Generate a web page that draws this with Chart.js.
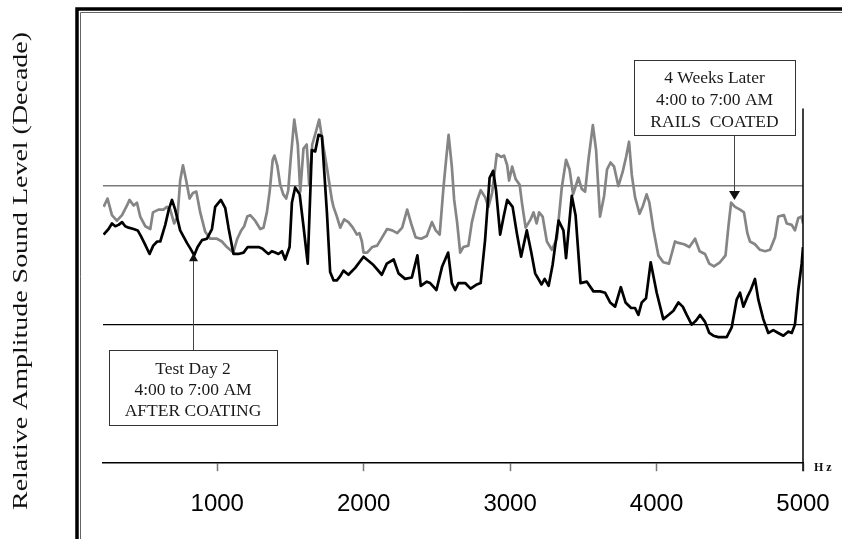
<!DOCTYPE html>
<html>
<head>
<meta charset="utf-8">
<script src="https://cdn.jsdelivr.net/npm/chart.js@4.4.1/dist/chart.umd.min.js"></script>
<style>
html,body{margin:0;padding:0;background:#fff;}
#wrap{width:842px;height:539px;position:relative;}
canvas{display:block;}
</style>
</head>
<body>
<div id="wrap"><canvas id="c" width="842" height="539"></canvas></div>
<script>
// ---- data (frequency in Hz, amplitude in decades) ----
const freqBlack = [
  224,258,281,304,326,350,372,395,429,457,
  478,502,538,563,590,611,645,669,691,713,
  747,793,816,843,866,896,930,964,986,1025,
  1055,1077,1111,1145,1180,1208,1248,1282,1307,1328,
  1350,1373,1396,1418,1442,1464,1494,1510,1532,1563,
  1589,1618,1646,1669,1692,1715,1749,1771,1794,1817,
  1840,1862,1896,1942,1999,2067,2124,2158,2205,2238,
  2283,2329,2367,2390,2431,2454,2497,2536,2577,2602,
  2625,2647,2693,2730,2773,2799,2829,2860,2884,2904,
  2932,2956,2980,3017,3046,3075,3114,3143,3171,3215,
  3236,3263,3290,3331,3364,3382,3421,3447,3481,3524,
  3569,3614,3649,3683,3717,3756,3788,3826,3853,3876,
  3899,3928,3960,4001,4046,4081,4115,4149,4179,4206,
  4240,4270,4297,4331,4360,4388,4422,4479,4513,4547,
  4570,4593,4620,4643,4672,4695,4729,4763,4797,4831,
  4866,4900,4923,4945,4968,4991,5000
];
const ampBlack = [
  1.65,1.69,1.73,1.71,1.72,1.74,1.71,1.70,1.69,1.68,
  1.64,1.59,1.51,1.57,1.60,1.60,1.72,1.83,1.90,1.83,
  1.68,1.59,1.55,1.50,1.56,1.61,1.62,1.69,1.85,1.90,
  1.84,1.70,1.51,1.51,1.52,1.56,1.56,1.56,1.55,1.53,
  1.51,1.53,1.52,1.51,1.53,1.47,1.56,1.88,1.99,1.94,
  1.71,1.44,2.26,2.25,2.37,2.36,1.81,1.38,1.32,1.32,
  1.35,1.39,1.36,1.41,1.49,1.43,1.36,1.44,1.47,1.37,
  1.33,1.34,1.50,1.28,1.31,1.30,1.25,1.42,1.52,1.30,
  1.25,1.30,1.30,1.26,1.29,1.30,1.61,2.06,2.11,1.97,
  1.65,1.78,1.90,1.85,1.66,1.49,1.68,1.53,1.37,1.29,
  1.33,1.28,1.43,1.75,1.68,1.48,1.93,1.79,1.30,1.31,
  1.24,1.24,1.23,1.16,1.13,1.27,1.16,1.12,1.12,1.07,
  1.16,1.19,1.45,1.23,1.04,1.07,1.10,1.16,1.13,1.07,
  1.00,1.03,1.07,1.02,0.94,0.92,0.91,0.91,0.98,1.18,
  1.23,1.13,1.20,1.25,1.33,1.18,1.04,0.94,0.96,0.94,
  0.92,0.95,0.94,1.00,1.25,1.44,1.56
];
const freqGray = [
  224,251,281,315,350,384,401,429,452,474,
  509,543,561,599,633,657,679,706,729,747,
  766,788,811,834,857,884,918,952,998,1032,
  1066,1109,1137,1164,1184,1205,1225,1259,1294,1316,
  1339,1358,1379,1391,1410,1430,1451,1471,1485,1502,
  1526,1550,1567,1589,1611,1628,1649,1676,1696,1724,
  1751,1783,1794,1817,1840,1867,1896,1926,1954,1971,
  1988,1999,2024,2058,2092,2126,2160,2195,2229,2263,
  2297,2324,2355,2393,2431,2466,2492,2519,2545,2563,
  2580,2602,2618,2638,2659,2681,2715,2739,2773,2799,
  2829,2852,2877,2909,2939,2959,2980,2993,3014,3038,
  3065,3082,3106,3140,3160,3181,3198,3222,3251,3285,
  3319,3353,3382,3406,3430,3466,3489,3512,3535,3565,
  3587,3614,3642,3662,3686,3710,3739,3768,3792,3812,
  3831,3853,3884,3908,3932,3951,3978,4012,4046,4085,
  4126,4149,4188,4224,4263,4294,4331,4360,4392,4433,
  4471,4490,4509,4536,4570,4597,4620,4638,4672,4706,
  4741,4775,4809,4831,4870,4889,4923,4945,4968,4991,
  5000
];
const ampGray = [
  1.85,1.91,1.79,1.75,1.79,1.86,1.90,1.86,1.88,1.78,
  1.71,1.69,1.81,1.83,1.83,1.85,1.83,1.73,1.78,2.04,
  2.15,2.04,1.91,1.95,1.96,1.81,1.67,1.62,1.62,1.60,
  1.56,1.52,1.62,1.68,1.71,1.78,1.79,1.75,1.69,1.70,
  1.81,1.96,2.19,2.22,2.15,2.01,1.94,1.91,1.97,2.20,
  2.48,2.30,1.96,2.27,2.30,2.01,2.30,2.40,2.48,2.29,
  2.12,1.90,1.85,1.78,1.70,1.76,1.74,1.70,1.65,1.66,
  1.60,1.52,1.52,1.56,1.57,1.63,1.69,1.68,1.66,1.70,
  1.83,1.73,1.63,1.62,1.64,1.74,1.68,1.65,1.99,2.19,
  2.37,2.14,1.90,1.74,1.52,1.56,1.57,1.74,1.89,1.97,
  1.92,1.85,1.95,2.23,2.21,2.22,2.15,2.04,2.14,2.05,
  2.01,1.87,1.70,1.76,1.81,1.73,1.81,1.78,1.60,1.54,
  1.62,1.99,2.19,2.12,1.94,2.06,1.98,1.96,2.19,2.44,
  2.26,1.78,1.93,2.12,2.17,2.14,2.00,2.10,2.21,2.32,
  2.08,1.92,1.80,1.86,1.94,1.88,1.69,1.50,1.45,1.44,
  1.60,1.59,1.58,1.56,1.62,1.53,1.51,1.44,1.42,1.45,
  1.50,1.70,1.88,1.85,1.83,1.81,1.66,1.60,1.58,1.54,
  1.53,1.54,1.63,1.78,1.79,1.73,1.72,1.68,1.77,1.78,
  1.73
];
const xTickValues = [1000, 2000, 3000, 4000, 5000];
const yGridValues = [0, 1, 2, 3];
const yTitle = 'Relative Amplitude Sound Level (Decade)';
const xUnit = 'H z';
const noteBlack = ['Test Day 2', '4:00 to 7:00 AM', 'AFTER COATING'];
const noteGray = ['4 Weeks Later', '4:00 to 7:00 AM', 'RAILS  COATED'];
const noteBlackTarget = [836, 1.516];
const noteGrayTarget = [4529, 1.90];

function pts(xs, ys) {
  const n = Math.min(xs.length, ys.length);
  const out = [];
  for (let i = 0; i < n; i++) out.push({x: xs[i], y: ys[i]});
  return out;
}

function drawNote(ctx, lines, bx, by, bw, bh, baselines) {
  ctx.save();
  ctx.fillStyle = '#fff';
  ctx.fillRect(bx, by, bw, bh);
  ctx.strokeStyle = '#333';
  ctx.lineWidth = 1;
  ctx.strokeRect(bx + 0.5, by + 0.5, bw, bh);
  ctx.fillStyle = '#1a1a1a';
  ctx.font = '17.5px "Liberation Serif", "Times New Roman", serif';
  ctx.textAlign = 'center';
  ctx.textBaseline = 'alphabetic';
  lines.forEach((t, i) => ctx.fillText(t, bx + bw / 2, baselines[i]));
  ctx.restore();
}

function drawArrow(ctx, x, yFrom, yTip, dir, hw, hl) {
  ctx.save();
  ctx.strokeStyle = '#444';
  ctx.fillStyle = '#111';
  ctx.lineWidth = 1;
  ctx.beginPath();
  ctx.moveTo(x + 0.5, yFrom);
  ctx.lineTo(x + 0.5, yTip - dir * hl);
  ctx.stroke();
  ctx.beginPath();
  ctx.moveTo(x + 0.5, yTip);
  ctx.lineTo(x + 0.5 - hw, yTip - dir * hl);
  ctx.lineTo(x + 0.5 + hw, yTip - dir * hl);
  ctx.closePath();
  ctx.fill();
  ctx.restore();
}

const decor = {
  id: 'decor',
  beforeDraw(chart) {
    const ctx = chart.ctx;
    ctx.save();
    ctx.fillStyle = '#fff';
    ctx.fillRect(0, 0, chart.width, chart.height);
    ctx.restore();
  },
  afterDraw(chart) {
    const {ctx} = chart;
    const xs = chart.scales.x, ys = chart.scales.y;
    ctx.save();
    // outer frame (double line)
    ctx.strokeStyle = '#000';
    ctx.lineWidth = 3.5;
    ctx.beginPath();
    ctx.moveTo(77, chart.height + 5);
    ctx.lineTo(77, 9);
    ctx.lineTo(chart.width + 5, 9);
    ctx.stroke();
    ctx.strokeStyle = '#666';
    ctx.lineWidth = 1;
    ctx.beginPath();
    ctx.moveTo(80.5, chart.height + 5);
    ctx.lineTo(80.5, 12.5);
    ctx.lineTo(chart.width + 5, 12.5);
    ctx.stroke();

    // y-axis title (outside frame)
    ctx.save();
    ctx.font = '22px "Liberation Serif", "Times New Roman", serif';
    const w = ctx.measureText(yTitle).width;
    ctx.translate(27, 271);
    ctx.rotate(-Math.PI / 2);
    ctx.scale(478 / w, 1);
    ctx.textAlign = 'center';
    ctx.textBaseline = 'alphabetic';
    ctx.fillStyle = '#111';
    ctx.fillText(yTitle, 0, 0);
    ctx.restore();

    // right vertical line at 5000 Hz
    const rx = Math.round(xs.getPixelForValue(5000));
    ctx.strokeStyle = '#000';
    ctx.lineWidth = 1.5;
    ctx.beginPath();
    ctx.moveTo(rx, ys.getPixelForValue(2.56));
    ctx.lineTo(rx, ys.bottom + 8);
    ctx.stroke();

    // Hz unit
    ctx.fillStyle = '#111';
    ctx.font = 'bold 12px "Liberation Serif", "Times New Roman", serif';
    ctx.textAlign = 'left';
    ctx.textBaseline = 'alphabetic';
    ctx.fillText(xUnit, rx + 11, ys.bottom + 8);

    // annotations
    const t1x = Math.round(xs.getPixelForValue(noteBlackTarget[0]));
    const t1y = ys.getPixelForValue(noteBlackTarget[1]);
    drawArrow(ctx, t1x, 350, t1y, -1, 4.5, 8);
    drawNote(ctx, noteBlack, 109, 350, 168, 75, [373.5, 395, 416]);

    const t2x = Math.round(xs.getPixelForValue(noteGrayTarget[0]));
    const t2y = ys.getPixelForValue(noteGrayTarget[1]);
    drawArrow(ctx, t2x, 135, t2y, 1, 5.5, 9);
    drawNote(ctx, noteGray, 634, 60, 161, 75, [83.3, 105, 126.7]);

    ctx.restore();
  }
};

new Chart(document.getElementById('c'), {
  type: 'line',
  data: {
    datasets: [
      {
        label: 'Test Day 2, 4:00 to 7:00 AM, after coating',
        data: pts(freqBlack, ampBlack),
        borderColor: '#000',
        borderWidth: 2.7,
        pointRadius: 0,
        tension: 0,
        borderJoinStyle: 'round',
        fill: false
      },
      {
        label: '4 Weeks Later, 4:00 to 7:00 AM, rails coated',
        data: pts(freqGray, ampGray),
        borderColor: '#858585',
        borderWidth: 2.7,
        pointRadius: 0,
        tension: 0,
        borderJoinStyle: 'round',
        fill: false
      }
    ]
  },
  options: {
    responsive: false,
    animation: false,
    devicePixelRatio: 1,
    layout: {padding: {left: 103, right: 39, top: 47.5, bottom: 1}},
    plugins: {legend: {display: false}, tooltip: {enabled: false}},
    scales: {
      x: {
        type: 'linear',
        min: 220,
        max: 5000,
        afterBuildTicks: (s) => { s.ticks = xTickValues.map(v => ({value: v})); },
        afterFit: (s) => { s.paddingLeft = 0; s.paddingRight = 0; },
        ticks: {
          callback: (v) => String(v),
          font: {family: '"Liberation Sans", Arial, sans-serif', size: 24},
          color: '#000',
          padding: 19,
          maxRotation: 0,
          autoSkip: false
        },
        grid: {
          drawOnChartArea: false,
          drawTicks: true,
          tickLength: 8,
          tickWidth: 1.5,
          tickColor: '#777'
        },
        border: {display: true, color: '#000', width: 1.5}
      },
      y: {
        type: 'linear',
        min: 0,
        max: 3,
        afterBuildTicks: (s) => { s.ticks = yGridValues.map(v => ({value: v})); },
        ticks: {display: false},
        grid: {
          drawTicks: false,
          color: (c) => c.tick && c.tick.value === 1 ? '#000' : (c.tick && c.tick.value === 2 ? '#7a7a7a' : 'rgba(0,0,0,0)'),
          lineWidth: (c) => c.tick && c.tick.value === 2 ? 1.5 : 1.2
        },
        border: {display: false}
      }
    }
  },
  plugins: [decor]
});
</script>
</body>
</html>
